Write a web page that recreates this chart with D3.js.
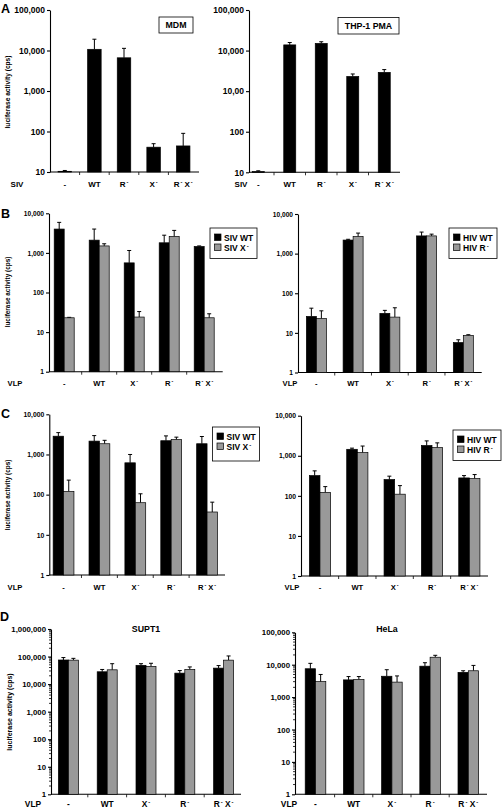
<!DOCTYPE html>
<html><head><meta charset="utf-8">
<script src="https://cdn.jsdelivr.net/npm/d3@7"></script>
<style>
body{margin:0;background:#fff}
svg{display:block}
text{font-family:"Liberation Sans",Arial,sans-serif;font-weight:bold;fill:#000}
</style>
</head><body>
<svg id="c" width="502" height="809"></svg>
<script>
// ---------- data ----------
const catsA = ["-", "WT", "R-", "X-", "R-X-"];
const catsVLP = ["-", "WT", "X-", "R-", "R-X-"];

const ticksA = [10, 100, 1000, 10000, 100000];
const tickLabelsALeft = ["10", "100", "1,000", "10,000", "100,000"];
const tickLabelsARight = ["10", "100", "10,00", "10,000", "100,000"];
const ticksBC = [1, 10, 100, 1000, 10000];
const tickLabelsBC = ["1", "10", "100", "1,000", "10,000"];
const ticksDLeft = [1, 10, 100, 1000, 10000, 100000, 1000000];
const tickLabelsDLeft = ["1", "10", "100", "1,000", "10,000", "100,000", "1,000,000"];
const ticksDRight = [1, 10, 100, 1000, 10000, 100000];
const tickLabelsDRight = ["1", "10", "100", "1,000", "10,000", "100,000"];

// Panel A
const mdmVals = [10.4, 10700, 6600, 41, 44];
const mdmErr  = [10.9, 19000, 11300, 50, 90];
const thpVals = [10.4, 13800, 15000, 2300, 2900];
const thpErr  = [10.9, 15800, 16500, 2650, 3400];

// Panel B
const bSivWT     = [4000, 2100, 560, 1800, 1450];
const bSivWTErr  = [5900, 4000, 1150, 2800, 1500];
const bSivX      = [23, 1500, 24, 2600, 23];
const bSivXErr   = [23.6, 1700, 33, 3700, 29];
const bHivWT     = [26, 2200, 31, 2800, 5.7];
const bHivWTErr  = [42, 2300, 37, 3500, 6.7];
const bHivR      = [23, 2700, 25, 2800, 8.6];
const bHivRErr   = [36, 3300, 43, 3100, 9.0];

// Panel C
const cSivWT     = [2850, 2150, 620, 2200, 1850];
const cSivWTErr  = [3500, 2950, 1000, 2900, 2800];
const cSivX      = [120, 1850, 63, 2350, 37];
const cSivXErr   = [230, 2250, 105, 2700, 65];
const cHivWT     = [320, 1450, 255, 1800, 280];
const cHivWTErr  = [420, 1550, 310, 2350, 320];
const cHivR      = [122, 1200, 110, 1600, 270];
const cHivRErr   = [170, 1750, 180, 2100, 340];

// Panel D
const supt1Black    = [75000, 28000, 48000, 25000, 38000];
const supt1BlackErr = [92000, 34000, 55000, 31000, 47000];
const supt1Gray     = [74000, 33000, 44000, 34000, 74000];
const supt1GrayErr  = [86000, 55000, 57000, 42000, 105000];
const helaBlack     = [7500, 3400, 4400, 9000, 5800];
const helaBlackErr  = [11000, 4300, 7000, 11500, 6500];
const helaGray      = [3000, 3500, 2900, 17000, 6500];
const helaGrayErr   = [5000, 4300, 4500, 19500, 9500];

const legendSIV = ["SIV WT", "SIV X-"];
const legendHIV = ["HIV WT", "HIV R-"];

// ---------- drawing ----------
const GRAY = "#999999";
const svg = d3.select("#c");

// text with superscript minus signs: "R-X-" -> R⁻ X⁻
function richText(sel, label, fs) {
  if (label === "-") { sel.text("-"); return; }
  const parts = label.match(/[^-]+-?/g);
  let raised = false;
  parts.forEach((p, i) => {
    const hasMinus = p.endsWith("-");
    let base = hasMinus ? p.slice(0, -1) : p;
    if (i > 0 && !/^\s/.test(base)) base = " " + base;
    const t = sel.append("tspan").text(base);
    if (raised) { t.attr("dy", fs * 0.35); raised = false; }
    if (hasMinus) {
      sel.append("tspan").text("-").attr("font-size", fs * 0.7).attr("dx", fs * 0.12).attr("dy", -fs * 0.35);
      raised = true;
    }
  });
}

function panel(cfg) {
  const g = svg.append("g");
  const y = d3.scaleLog().domain(cfg.domain).range([cfg.yb, cfg.yt]);
  const x = d3.scaleBand().domain(cfg.cats).range([cfg.x0, cfg.x1]);
  const yb = y(cfg.domain[0]);

  // y axis
  const axis = d3.axisLeft(y).tickValues(cfg.ticks)
    .tickFormat((d, i) => cfg.tickLabels[i]).tickSize(3).tickSizeOuter(0).tickPadding(2);
  const ga = g.append("g").attr("transform", `translate(${cfg.ax},0)`).call(axis);
  ga.attr("font-family", null).attr("font-size", null);
  ga.selectAll("text").style("font-size", cfg.tickFs + "px").style("font-weight", "bold");
  ga.selectAll("path,line").attr("stroke", "#000").attr("stroke-width", 1.1);
  if (cfg.minor) {
    const minors = [];
    const lo = Math.log10(cfg.domain[0]), hi = Math.log10(cfg.domain[1]);
    for (let d = lo; d < hi; d++) for (let k = 2; k <= 9; k++) minors.push(k * Math.pow(10, d));
    ga.selectAll("line.minor").data(minors).join("line").attr("class", "minor")
      .attr("x1", -2).attr("x2", 0).attr("y1", d => y(d)).attr("y2", d => y(d))
      .attr("stroke", "#000").attr("stroke-width", 0.8);
  }

  // x axis line + boundary ticks
  g.append("line").attr("x1", cfg.ax).attr("x2", cfg.xEnd).attr("y1", yb).attr("y2", yb)
    .attr("stroke", "#000").attr("stroke-width", 1.1);
  const bounds = cfg.cats.slice(1).map(c => x(c));
  g.selectAll("line.xt").data(bounds).join("line").attr("class", "xt")
    .attr("x1", d => d).attr("x2", d => d).attr("y1", yb).attr("y2", yb + 3)
    .attr("stroke", "#000").attr("stroke-width", 0.8);

  // bars
  const series = cfg.series;
  const n = series.length;
  series.forEach((s, si) => {
    const off = n === 1 ? -cfg.barW / 2 : (si === 0 ? -cfg.barW : 0);
    const data = cfg.cats.map((c, i) => ({c, v: s.vals[i], e: s.err[i]}));
    // error bars
    g.selectAll(null).data(data).join("line")
      .attr("x1", d => x(d.c) + x.bandwidth() / 2 + off + cfg.barW / 2)
      .attr("x2", d => x(d.c) + x.bandwidth() / 2 + off + cfg.barW / 2)
      .attr("y1", d => y(d.v)).attr("y2", d => y(d.e))
      .attr("stroke", "#000").attr("stroke-width", 1);
    g.selectAll(null).data(data).join("line")
      .attr("x1", d => x(d.c) + x.bandwidth() / 2 + off + cfg.barW / 2 - 2)
      .attr("x2", d => x(d.c) + x.bandwidth() / 2 + off + cfg.barW / 2 + 2)
      .attr("y1", d => y(d.e)).attr("y2", d => y(d.e))
      .attr("stroke", "#000").attr("stroke-width", 1);
    g.selectAll(null).data(data).join("rect")
      .attr("x", d => x(d.c) + x.bandwidth() / 2 + off)
      .attr("width", cfg.barW)
      .attr("y", d => y(d.v)).attr("height", d => yb - y(d.v))
      .attr("fill", s.color).attr("stroke", "#000").attr("stroke-width", 0.7);
  });

  // category labels
  cfg.cats.forEach(c => {
    const t = g.append("text").attr("x", x(c) + x.bandwidth() / 2 + (cfg.labDx || 0)).attr("y", cfg.labY)
      .attr("text-anchor", "middle").attr("font-size", cfg.labFs);
    richText(t, c, cfg.labFs);
  });
  g.append("text").attr("x", cfg.prefixX).attr("y", cfg.labY).attr("text-anchor", "middle")
    .attr("font-size", cfg.labFs).text(cfg.prefix);

  // y title
  if (cfg.yTitle) {
    g.append("text").attr("transform", `translate(${cfg.yTitle[0]},${cfg.yTitle[1]}) rotate(-90)`)
      .attr("text-anchor", "middle").attr("font-size", cfg.yTitle[2]).text("luciferase activity (cps)");
  }

  // legend
  if (cfg.legend) {
    const L = cfg.legend;
    g.append("rect").attr("x", L.x).attr("y", L.y).attr("width", L.w).attr("height", L.h)
      .attr("fill", "#fff").attr("stroke", "#000").attr("stroke-width", 0.8);
    L.labels.forEach((lab, i) => {
      const cy = L.y + 9.5 + i * 10;
      g.append("rect").attr("x", L.x + 4.5).attr("y", cy - 3.5).attr("width", 6.5).attr("height", 6.5)
        .attr("fill", series[i].color).attr("stroke", "#000").attr("stroke-width", 0.7);
      const t = g.append("text").attr("x", L.x + 14).attr("y", cy + 3).attr("font-size", 8.5);
      richText(t, lab, 8.5);
    });
  }

  // boxed title
  if (cfg.box) {
    const B = cfg.box;
    g.append("rect").attr("x", B.x).attr("y", B.y).attr("width", B.w).attr("height", B.h)
      .attr("fill", "#fff").attr("stroke", "#000").attr("stroke-width", 0.8);
    g.append("text").attr("x", B.x + B.w / 2).attr("y", B.y + B.h / 2 + 3.2)
      .attr("text-anchor", "middle").attr("font-size", 8.8).text(B.text);
  }
  if (cfg.title) {
    g.append("text").attr("x", cfg.title.x).attr("y", cfg.title.y).attr("text-anchor", "middle")
      .attr("font-size", 8.8).text(cfg.title.text);
  }
}

// panel letters
[["A", 1, 13], ["B", 1, 218], ["C", 1, 418], ["D", 0, 621]].forEach(([t, px, py]) =>
  svg.append("text").attr("x", px).attr("y", py).attr("font-size", 12.5).text(t));

// ---- A ----
panel({cats: catsA, domain: [10, 100000], ticks: ticksA, tickLabels: tickLabelsALeft, tickFs: 8.5,
  ax: 50, x0: 50, x1: 198, xEnd: 199, yb: 172, yt: 10, barW: 13.5,
  series: [{vals: mdmVals, err: mdmErr, color: "#000"}],
  labY: 186.5, labFs: 8, prefix: "SIV", prefixX: 17, minor: false,
  yTitle: [10, 92, 6.6], box: {x: 159, y: 17, w: 34, h: 16, text: "MDM"}});
panel({cats: catsA, domain: [10, 100000], ticks: ticksA, tickLabels: tickLabelsARight, tickFs: 8.5,
  ax: 249, x0: 242.5, x1: 400, xEnd: 400, yb: 172.3, yt: 10, barW: 12,
  series: [{vals: thpVals, err: thpErr, color: "#000"}],
  labY: 186.5, labFs: 8, prefix: "SIV", prefixX: 241, minor: false,
  box: {x: 338, y: 17.5, w: 61, h: 16.5, text: "THP-1 PMA"}});

// ---- B ----
panel({cats: catsVLP, domain: [1, 10000], ticks: ticksBC, tickLabels: tickLabelsBC, tickFs: 6.6,
  ax: 49, x0: 46.7, x1: 221.7, xEnd: 222.7, yb: 371.7, yt: 213.3, barW: 10,
  series: [{vals: bSivWT, err: bSivWTErr, color: "#000"}, {vals: bSivX, err: bSivXErr, color: GRAY}],
  labY: 385.5, labFs: 7.6, prefix: "VLP", prefixX: 15,
  yTitle: [10, 292, 6.4], legend: {x: 210, y: 228, w: 47, h: 30.5, labels: legendSIV}});
panel({cats: catsVLP, domain: [1, 10000], ticks: ticksBC, tickLabels: tickLabelsBC, tickFs: 6.6,
  ax: 298, x0: 298, x1: 481.7, xEnd: 481.7, yb: 372.5, yt: 214, barW: 10,
  series: [{vals: bHivWT, err: bHivWTErr, color: "#000"}, {vals: bHivR, err: bHivRErr, color: GRAY}],
  labY: 385.5, labFs: 7.6, prefix: "VLP", prefixX: 290,
  legend: {x: 449, y: 228, w: 48, h: 30.5, labels: legendHIV}});

// ---- C ----
panel({cats: catsVLP, domain: [1, 10000], ticks: ticksBC, tickLabels: tickLabelsBC, tickFs: 6.8,
  ax: 49.3, x0: 45.6, x1: 225, xEnd: 225, yb: 575, yt: 414.3, barW: 10.4,
  series: [{vals: cSivWT, err: cSivWTErr, color: "#000"}, {vals: cSivX, err: cSivXErr, color: GRAY}],
  labY: 590, labFs: 7.6, prefix: "VLP", prefixX: 15,
  yTitle: [10, 495, 6.4], legend: {x: 212.5, y: 427, w: 47, h: 34, labels: legendSIV}});
panel({cats: catsVLP, domain: [1, 10000], ticks: ticksBC, tickLabels: tickLabelsBC, tickFs: 6.8,
  ax: 301, x0: 301.3, x1: 488, xEnd: 488, yb: 576, yt: 415.7, barW: 10.6,
  series: [{vals: cHivWT, err: cHivWTErr, color: "#000"}, {vals: cHivR, err: cHivRErr, color: GRAY}],
  labY: 590, labFs: 7.6, prefix: "VLP", prefixX: 292,
  legend: {x: 453, y: 430, w: 48, h: 30.5, labels: legendHIV}});

// ---- D ----
panel({cats: catsVLP, domain: [1, 1000000], ticks: ticksDLeft, tickLabels: tickLabelsDLeft, tickFs: 7.8,
  ax: 51, x0: 49, x1: 243, xEnd: 241, yb: 794.3, yt: 629, barW: 10,
  series: [{vals: supt1Black, err: supt1BlackErr, color: "#000"}, {vals: supt1Gray, err: supt1GrayErr, color: GRAY}],
  labY: 807, labFs: 8.4, prefix: "VLP", prefixX: 33, minor: true,
  yTitle: [12, 712, 7], title: {x: 146, y: 632, text: "SUPT1"}});
panel({cats: catsVLP, domain: [1, 100000], ticks: ticksDRight, tickLabels: tickLabelsDRight, tickFs: 7.8,
  ax: 295, x0: 296.4, x1: 487.4, xEnd: 487, yb: 794.3, yt: 632.3, barW: 10.3,
  series: [{vals: helaBlack, err: helaBlackErr, color: "#000"}, {vals: helaGray, err: helaGrayErr, color: GRAY}],
  labY: 807, labFs: 8.4, prefix: "VLP", prefixX: 289, minor: true,
  title: {x: 387, y: 632, text: "HeLa"}});
</script>
</body></html>
